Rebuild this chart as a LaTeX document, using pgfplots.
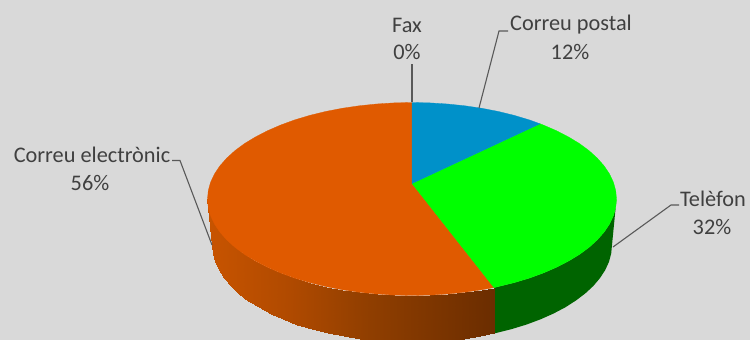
\documentclass[border=0pt]{standalone}
\usepackage{fontspec}
\setmainfont{Carlito}
\usepackage{pgfplots}
\pgfplotsset{compat=1.18}
\definecolor{bg}{RGB}{217,217,217}
\definecolor{orangetop}{RGB}{224,90,0}
\definecolor{bluetop}{RGB}{0,145,201}
\definecolor{greentop}{RGB}{0,255,0}
\definecolor{greenside}{RGB}{0,100,0}
\definecolor{txt}{RGB}{64,64,64}
\definecolor{lead}{RGB}{89,89,89}
\tikzset{lab/.style={text=txt, font=\fontsize{22.3}{24}\selectfont, inner sep=0pt, anchor=center}}
\begin{document}
\begin{tikzpicture}
\begin{axis}[
  scale only axis, width=750pt, height=340pt,
  xmin=0, xmax=750, ymin=0, ymax=340, y dir=reverse,
  hide axis,
  colormap={side}{rgb255(0cm)=(200,84,0); rgb255(1cm)=(176,74,0); rgb255(2cm)=(143,62,0); rgb255(3.5cm)=(107,45,0)}
]
% background
\addplot[fill=bg, draw=none] coordinates {(0,0)(750,0)(750,340)(0,340)} -- cycle;
% green side
\addplot[fill=greenside, draw=none] coordinates {
(616.5,199)(615.7,207.4)(613.4,215.8)(609.5,224)(604.2,232)(597.3,239.8)(589.1,247.3)(579.5,254.4)(568.6,261)(556.6,267.2)(543.5,272.9)(529.3,278.1)(514.3,282.6)(498.4,286.5)(494,287.6)
(494,333.4)(496.5,332.9)(512,329)(526.7,324.5)(540.6,319.3)(553.4,313.6)(565.2,307.4)(575.8,300.6)(585.2,293.5)(593.3,286)(599.9,278.2)(605.2,270.1)(609,261.8)(611.2,253.5)(612,245)
} -- cycle;
% orange side, shaded along x
\addplot[surf, shader=interp, mesh/rows=2, point meta=x] coordinates {
(494,287.6)(481.9,289.7)(464.9,292.2)(447.5,294)(429.8,295.1)(412,295.5)(394.2,295.1)(376.5,294)(359.1,292.2)(342.1,289.7)(325.6,286.5)(309.7,282.6)(294.7,278.1)(280.5,272.9)(267.4,267.2)(255.4,261)(244.5,254.4)(234.9,247.3)(226.7,239.8)(219.8,232)(214.5,224)(210.6,215.8)(208.3,207.4)(207.5,199)

(494,333.4)(480.4,336.2)(463.8,338.7)(446.7,340.5)(429.4,341.6)(412,342)(394.6,341.6)(377.3,340.5)(360.2,338.7)(343.6,336.2)(327.5,332.9)(312,329)(297.3,324.5)(283.4,319.3)(270.6,313.6)(258.8,307.4)(248.2,300.6)(238.8,293.5)(230.7,286)(224.1,278.2)(218.8,270.1)(215,261.8)(212.8,253.5)(212,245)
};
% top: orange
\addplot[fill=orangetop, draw=orangetop, line width=0.3pt] coordinates {
(412,183.5)(494,287.6)(481.9,289.7)(464.9,292.2)(447.5,294)(429.8,295.1)(412,295.5)(394.2,295.1)(376.5,294)(359.1,292.2)(342.1,289.7)(325.6,286.5)(309.7,282.6)(294.7,278.1)(280.5,272.9)(267.4,267.2)(255.4,261)(244.5,254.4)(234.9,247.3)(226.7,239.8)(219.8,232)(214.5,224)(210.6,215.8)(208.3,207.4)(207.5,199)
(208.3,190.6)(210.6,182.2)(214.5,174)(219.8,166)(226.7,158.2)(234.9,150.7)(244.5,143.6)(255.4,137)(267.4,130.8)(280.5,125.1)(294.7,119.9)(309.7,115.4)(325.6,111.5)(342.1,108.3)(359.1,105.8)(376.5,104)(394.2,102.9)(412,102.5)
} -- cycle;
% top: green
\addplot[fill=greentop, draw=greentop, line width=0.3pt] coordinates {
(412,183.5)(540,123.8)(543.5,125.1)(556.6,130.8)(568.6,137)(579.5,143.6)(589.1,150.7)(597.3,158.2)(604.2,166)(609.5,174)(613.4,182.2)(615.7,190.6)(616.5,199)(615.7,207.4)(613.4,215.8)(609.5,224)(604.2,232)(597.3,239.8)(589.1,247.3)(579.5,254.4)(568.6,261)(556.6,267.2)(543.5,272.9)(529.3,278.1)(514.3,282.6)(498.4,286.5)(494,287.6)
} -- cycle;
% top: blue
\addplot[fill=bluetop, draw=bluetop, line width=0.3pt] coordinates {
(412,183.5)(412,102.5)(429.8,102.9)(447.5,104)(464.9,105.8)(481.9,108.3)(498.4,111.5)(514.3,115.4)(529.3,119.9)(540,123.8)
} -- cycle;
% leader lines
\addplot[lead, line width=1.1pt] coordinates {(412,64)(412,102)};
\addplot[lead, line width=1.1pt] coordinates {(479,108)(499,31)(508,31)};
\addplot[lead, line width=1.1pt] coordinates {(172,160.5)(180,160.5)(212,245)};
\addplot[lead, line width=1.1pt] coordinates {(613,247)(671,205)(679,205)};
% labels
\node[lab] at (axis cs:407,25) {Fax};
\node[lab] at (axis cs:407,52) {0\%};
\node[lab] at (axis cs:571,25) {Correu postal};
\node[lab] at (axis cs:570,52) {12\%};
\node[lab] at (axis cs:92,155) {Correu electrònic};
\node[lab] at (axis cs:90,183) {56\%};
\node[lab] at (axis cs:713,199) {Telèfon};
\node[lab] at (axis cs:712,227) {32\%};
\end{axis}
\end{tikzpicture}
\end{document}
